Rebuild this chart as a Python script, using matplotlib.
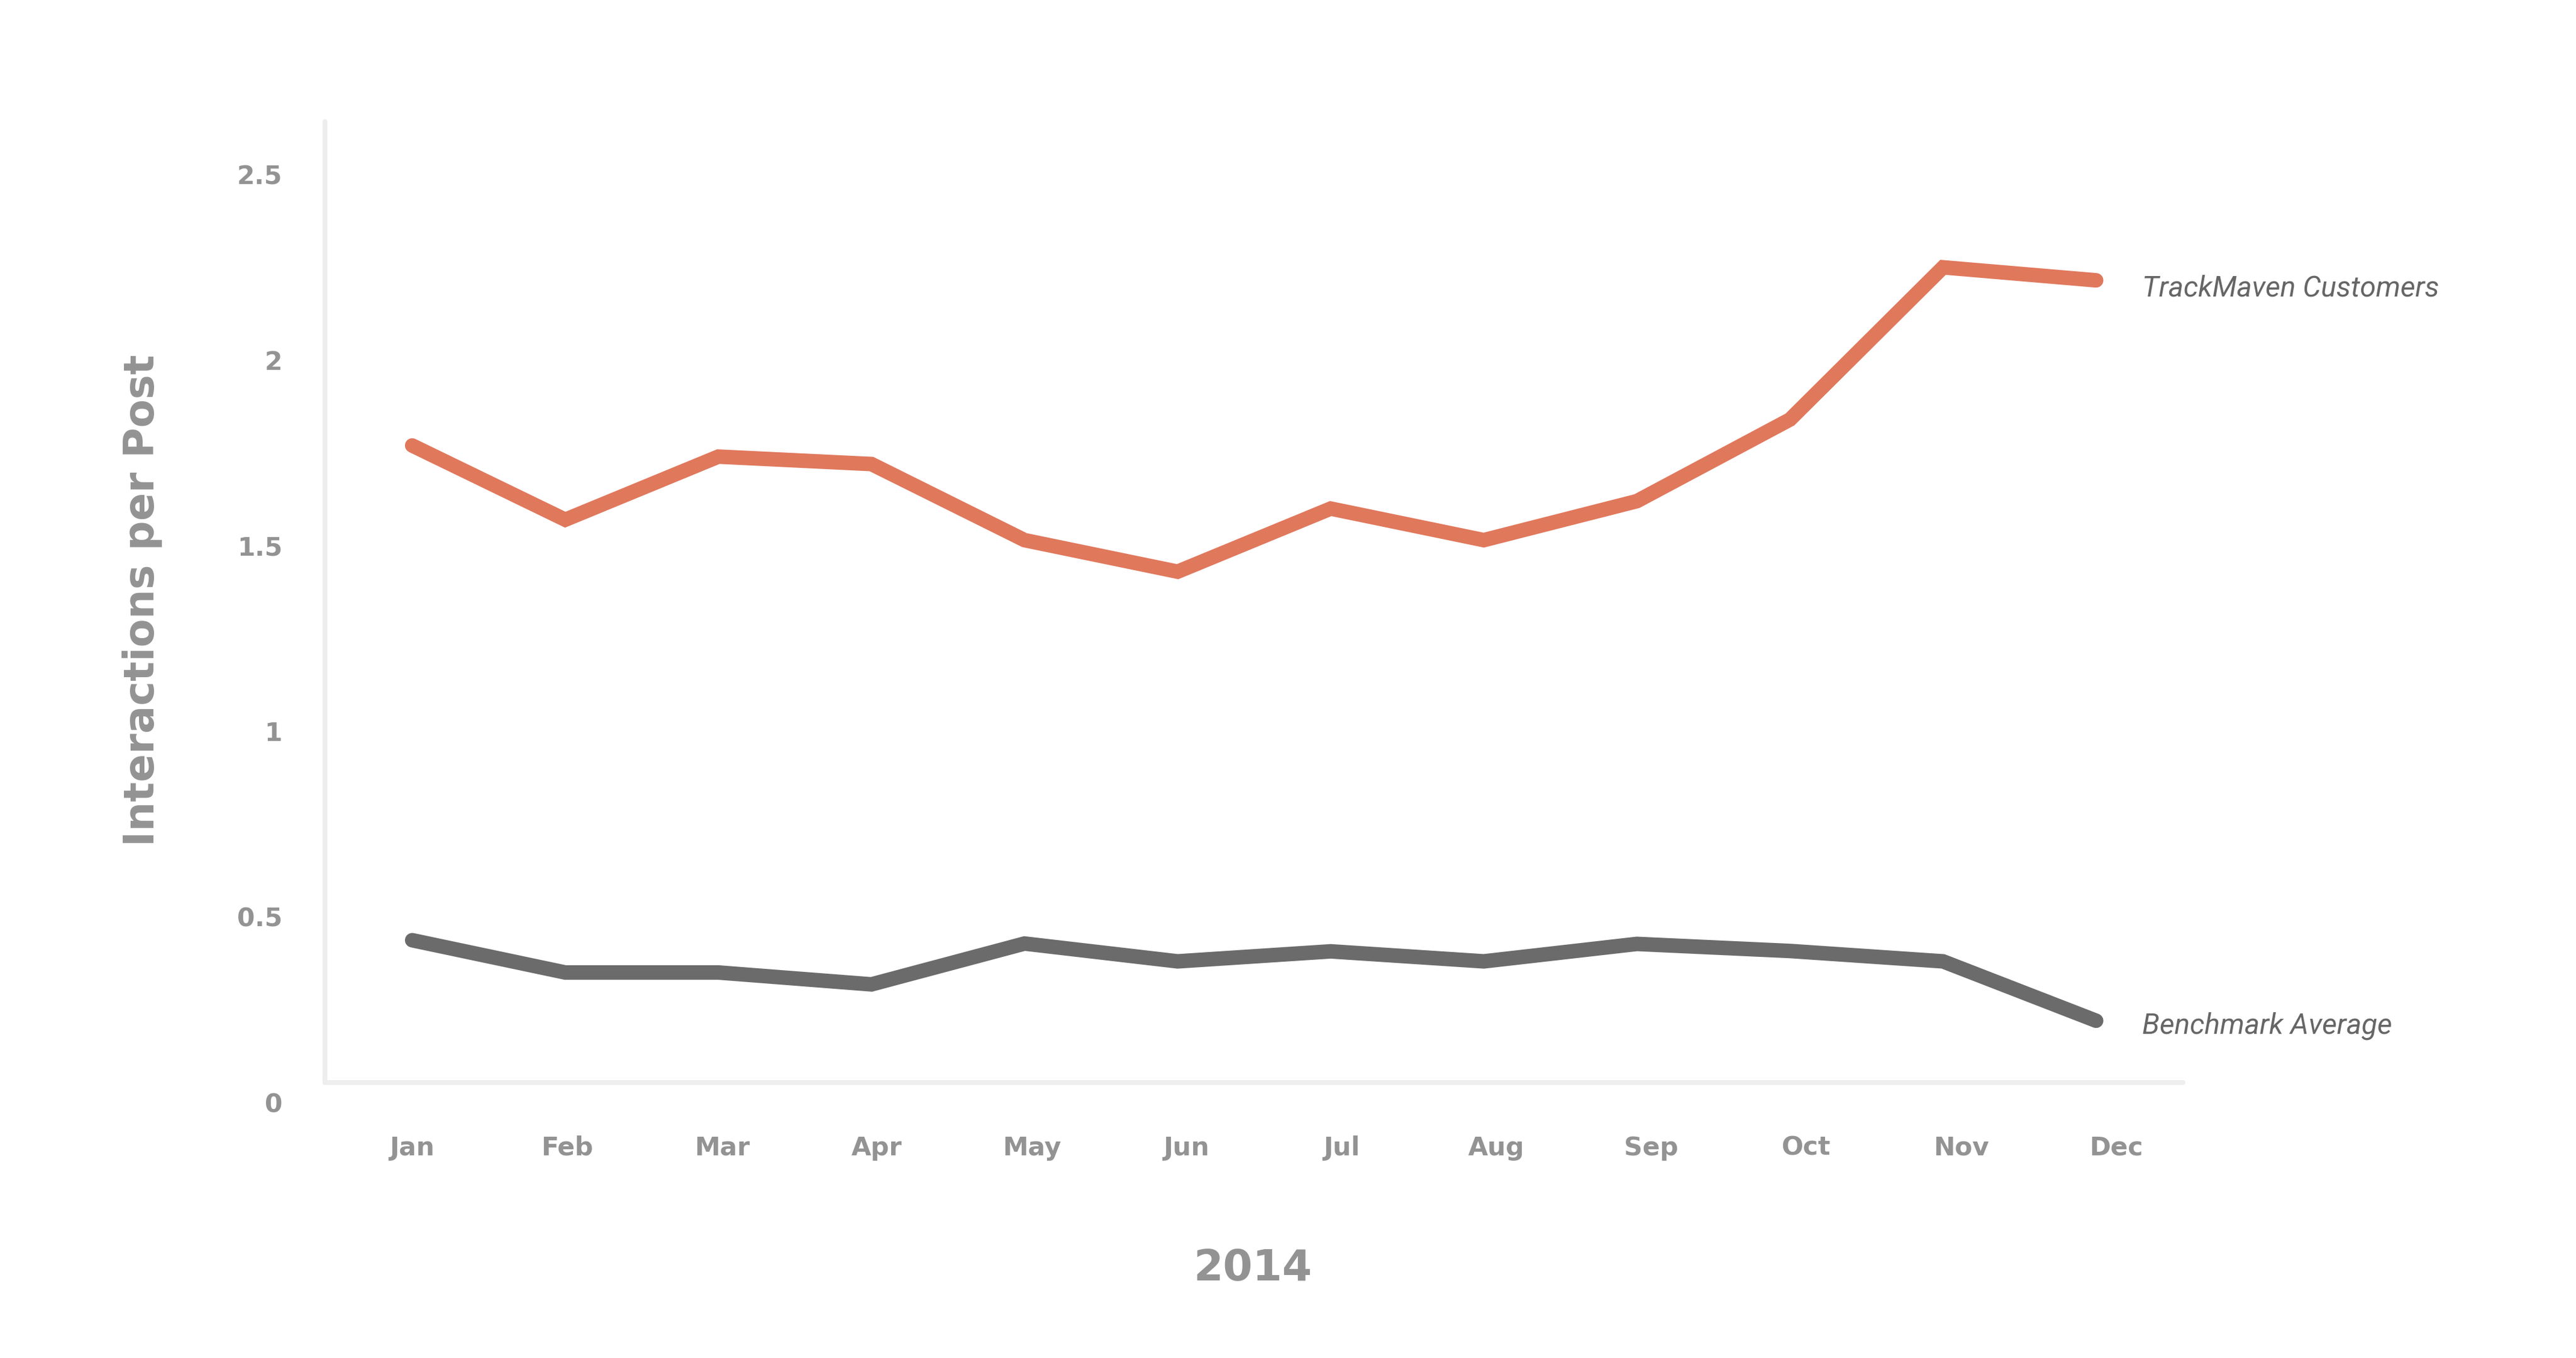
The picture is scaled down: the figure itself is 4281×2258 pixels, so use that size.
import matplotlib.pyplot as plt

months = ['Jan', 'Feb', 'Mar', 'Apr', 'May', 'Jun',
          'Jul', 'Aug', 'Sep', 'Oct', 'Nov', 'Dec']
trackmaven = [1.77, 1.57, 1.74, 1.72, 1.515, 1.43,
              1.6, 1.515, 1.62, 1.84, 2.25, 2.215]
benchmark = [0.437, 0.35, 0.35, 0.318, 0.428, 0.38,
             0.407, 0.38, 0.427, 0.408, 0.38, 0.22]
y_ticks = [0, 0.5, 1, 1.5, 2, 2.5]
y_tick_labels = ['0', '0.5', '1', '1.5', '2', '2.5']

ORANGE = '#e0785c'
DARK = '#6b6b6b'
LABEL_GREY = '#939393'
AXIS_GREY = '#eeeeee'

fig = plt.figure(figsize=(4281 / 300, 2258 / 300), dpi=300)
ax = fig.add_axes([540 / 4281, 1 - 1833 / 2258, 3088 / 4281, 1631 / 2258])

x = list(range(len(months)))
line_kw = dict(lw=5.8, solid_capstyle='round', solid_joinstyle='miter')
ax.plot(x, trackmaven, color=ORANGE, **line_kw)
ax.plot(x, benchmark, color=DARK, **line_kw)

ax.set_xlim(-0.570, 11.568)
ax.set_ylim(0, 2.643)

# axis lines sit a bit above the zero label, like the original
for side in ['top', 'right']:
    ax.spines[side].set_visible(False)
ax.spines['bottom'].set_position(('data', 0.053))
ax.spines['left'].set_bounds(0.053, 2.643)
for side in ['bottom', 'left']:
    ax.spines[side].set_color(AXIS_GREY)
    ax.spines[side].set_linewidth(1.9)
    ax.spines[side].set_capstyle('round')

# month labels are spaced slightly wider than the data points in the original
ax.set_xticks([i * 1.0118 for i in x])
ax.set_xticklabels(months)
ax.set_yticks(y_ticks)
ax.set_yticklabels(y_tick_labels)
ax.tick_params(axis='x', length=0, pad=21, labelsize=10.2, labelcolor=LABEL_GREY)
ax.tick_params(axis='y', length=0, pad=17, labelsize=10.2, labelcolor=LABEL_GREY)
for lbl in ax.get_xticklabels() + ax.get_yticklabels():
    lbl.set_fontweight('bold')
    lbl.set_family('DejaVu Sans')

fig.text(237 / 4281, 1 - 998 / 2258, 'Interactions per Post', rotation=90,
         ha='center', va='center', fontsize=16.5, fontweight='bold',
         family='DejaVu Sans', color=LABEL_GREY)
fig.text(2082 / 4281, 1 - 2110 / 2258, '2014', ha='center', va='center',
         fontsize=17, fontweight='bold', family='DejaVu Sans', color=LABEL_GREY)

ax.annotate('TrackMaven Customers', xy=(x[-1], trackmaven[-1]),
            xytext=(77, -26), textcoords='offset pixels', ha='left',
            va='baseline', fontsize=11.5, style='italic', family='Roboto',
            color='#666666', annotation_clip=False)
ax.annotate('Benchmark Average', xy=(x[-1], benchmark[-1]),
            xytext=(77, -21), textcoords='offset pixels', ha='left',
            va='baseline', fontsize=11.5, style='italic', family='Roboto',
            color='#666666', annotation_clip=False)

fig.savefig('out.png', dpi=300, facecolor='white')
